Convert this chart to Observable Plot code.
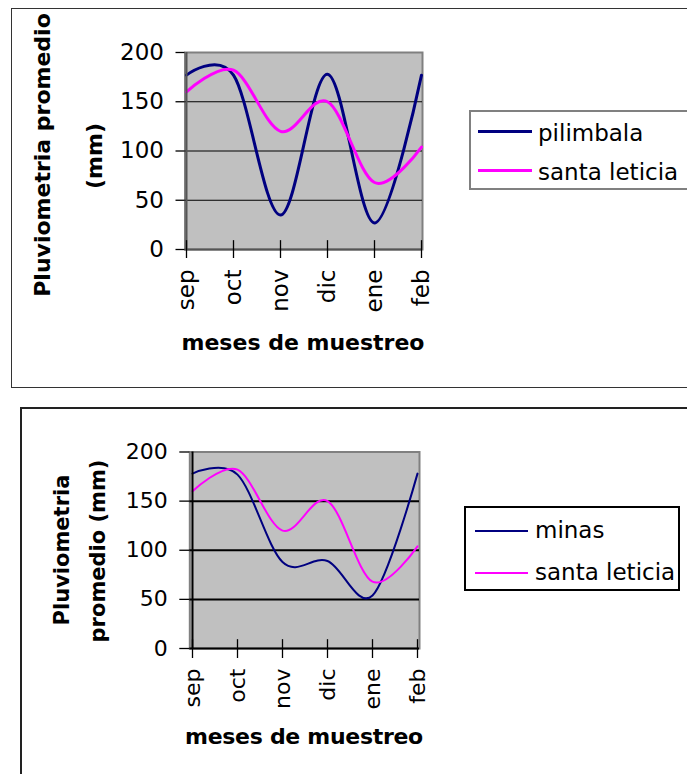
<!DOCTYPE html>
<html>
<head>
<meta charset="utf-8">
<script src="https://cdn.jsdelivr.net/npm/d3@7"></script>
<script src="https://cdn.jsdelivr.net/npm/@observablehq/plot@0.6"></script>
<style>
  html, body { margin: 0; padding: 0; background: #fff; }
  body { width: 687px; height: 774px; overflow: hidden; position: relative; font-family: "DejaVu Sans", sans-serif; color: #000; }
  .abs { position: absolute; }
  .frame { position: absolute; box-sizing: border-box; }
  .rot { position: absolute; white-space: nowrap; font-weight: bold; line-height: 1; transform: translate(-50%, -50%) rotate(-90deg); }
  .xtitle { position: absolute; white-space: nowrap; font-weight: bold; line-height: 1; transform: translate(-50%, -50%); }
  .legend { position: absolute; box-sizing: border-box; background: #fff; }
  .lg-line { position: absolute; }
  .lg-text { position: absolute; white-space: nowrap; line-height: 1; font-size: 23px; }
  svg { overflow: visible; }
</style>
</head>
<body>
<div id="root"></div>
<script>
// ---- data ----
const months = ["sep", "oct", "nov", "dic", "ene", "feb"];
const pilimbala = [177, 177, 35, 178, 27, 177];
const santaLeticia = [160, 182, 120, 150, 68, 104];
const minas = [178, 177, 88, 89, 54, 178];
const yTicks = [0, 50, 100, 150, 200];
const gridValues = [50, 100, 150];
const yTitleTop = ["Pluviometria promedio", "(mm)"];
const yTitleBottom = ["Pluviometria", "promedio (mm)"];
const xTitle = "meses de muestreo";

const NAVY = "#000080";
const MAGENTA = "#FF00FF";

function rows(name, values) {
  return months.map((m, i) => ({month: m, value: values[i], series: name}));
}

function chart({top, width, height, mL, mR, mT, mB, series, lineW, gridW, axisColor, fontSize, tickSize, tickPad, xTickPad}) {
  const data = series.flatMap(s => rows(s.name, s.values));
  const colors = series.map(s => s.color);
  const names = series.map(s => s.name);
  const svg = Plot.plot({
    width, height,
    marginLeft: mL, marginRight: mR, marginTop: mT, marginBottom: mB,
    style: {fontFamily: "DejaVu Sans", fontSize: fontSize + "px", background: "transparent", color: "#000", overflow: "visible"},
    x: {type: "point", domain: months, padding: 0},
    y: {domain: [0, 200]},
    color: {domain: names, range: colors},
    marks: [
      Plot.frame({fill: "#C0C0C0", stroke: "#808080", strokeWidth: 2}),
      Plot.ruleY(gridValues, {stroke: "#000", strokeWidth: gridW}),
      Plot.line(data, {x: "month", y: "value", z: "series", stroke: "series", curve: "cardinal", strokeWidth: lineW}),
      Plot.ruleX([months[0]], {stroke: axisColor, strokeWidth: 2}),
      Plot.ruleY([0], {stroke: axisColor, strokeWidth: 2}),
      Plot.gridX({y1: 0, y2: 9, stroke: "#000", strokeOpacity: 1, strokeWidth: 1.3}),
      Plot.axisY({ticks: yTicks, tickSize: tickSize, tickPadding: tickPad, label: null, stroke: "#000", strokeWidth: 1.3, fill: "#000"}),
      Plot.axisX({tickRotate: -90, tickSize: tickSize, tickPadding: xTickPad, label: null, stroke: "#000", strokeWidth: 1.3, fill: "#000"})
    ]
  });
  svg.style.position = "absolute";
  svg.style.left = "0px";
  svg.style.top = top + "px";
  return svg;
}

const root = document.body;

function add(html) {
  const d = document.createElement("div");
  d.innerHTML = html;
  while (d.firstChild) root.appendChild(d.firstChild);
}

// outer frames
add(`<div class="frame" style="left:11px;top:8px;width:700px;height:380px;border:1.5px solid #333;"></div>`);
add(`<div class="frame" style="left:20px;top:407px;width:700px;height:420px;border:2px solid #222;"></div>`);

// top chart
root.appendChild(chart({
  top: 0, width: 460, height: 300, mL: 184.5, mR: 38, mT: 52, mB: 51,
  series: [{name: "pilimbala", values: pilimbala, color: NAVY}, {name: "santa leticia", values: santaLeticia, color: MAGENTA}],
  lineW: 3, gridW: 1.2, axisColor: "#555", fontSize: 23, tickSize: 9, tickPad: 12, xTickPad: 11
}));

// bottom chart
root.appendChild(chart({
  top: 400, width: 460, height: 310, mL: 189.3, mR: 41, mT: 51.5, mB: 62,
  series: [{name: "minas", values: minas, color: NAVY}, {name: "santa leticia", values: santaLeticia, color: MAGENTA}],
  lineW: 2, gridW: 2, axisColor: "#000", fontSize: 22, tickSize: 10, tickPad: 12, xTickPad: 10
}));

// axis titles (top)
add(`<div class="rot" style="left:43px;top:155px;font-size:22px;">${yTitleTop[0]}</div>`);
add(`<div class="rot" style="left:95px;top:156px;font-size:22px;">${yTitleTop[1]}</div>`);
add(`<div class="xtitle" style="left:303px;top:343px;font-size:22px;">${xTitle}</div>`);

// axis titles (bottom)
add(`<div class="rot" style="left:62px;top:550px;font-size:21px;">${yTitleBottom[0]}</div>`);
add(`<div class="rot" style="left:98px;top:551px;font-size:21px;">${yTitleBottom[1]}</div>`);
add(`<div class="xtitle" style="left:304px;top:737px;font-size:22px;letter-spacing:-0.3px;">${xTitle}</div>`);

// legends
function legend(box, items, lineW, border) {
  add(`<div class="legend" style="left:${box.x}px;top:${box.y}px;width:${box.w}px;height:${box.h}px;border:${border};"></div>`);
  items.forEach(it => {
    add(`<div class="lg-line" style="left:${it.lx1}px;top:${it.ly - lineW / 2}px;width:${it.lx2 - it.lx1}px;height:${lineW}px;background:${it.color};"></div>`);
    add(`<div class="lg-text" style="left:${it.tx}px;top:${it.baseline - 19.5}px;">${it.label}</div>`);
  });
}
legend({x: 469, y: 110, w: 240, h: 80}, [
  {label: "pilimbala", color: NAVY, lx1: 478, lx2: 532, ly: 131.5, tx: 538, baseline: 141},
  {label: "santa leticia", color: MAGENTA, lx1: 478, lx2: 532, ly: 170.5, tx: 538, baseline: 180}
], 3, "2px solid #808080");
legend({x: 464, y: 506, w: 216, h: 85}, [
  {label: "minas", color: NAVY, lx1: 475, lx2: 528, ly: 531, tx: 535, baseline: 538.5},
  {label: "santa leticia", color: MAGENTA, lx1: 475, lx2: 528, ly: 573, tx: 535, baseline: 580}
], 2, "2px solid #000");
</script>
</body>
</html>
